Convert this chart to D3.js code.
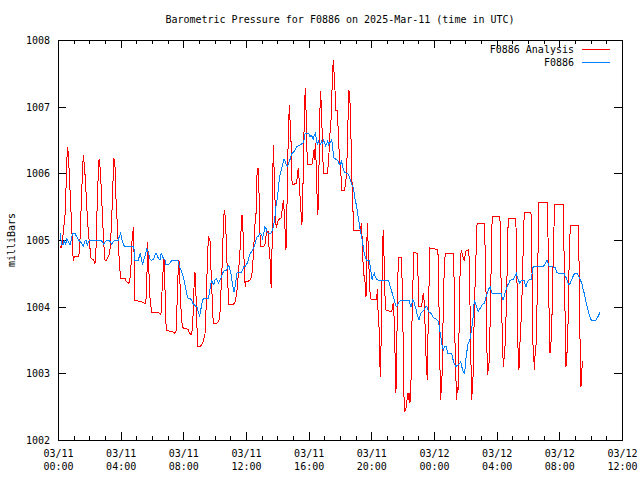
<!DOCTYPE html>
<html><head><meta charset="utf-8">
<script src="https://cdn.jsdelivr.net/npm/d3@7"></script>
<style>
html,body{margin:0;padding:0;background:#fff;}
svg{display:block;}
text{font-family:"DejaVu Sans Mono","Liberation Mono",monospace;font-size:10px;fill:#000;}
</style></head>
<body>
<svg id="chart" width="640" height="480"></svg>
<script>
// ---- data (hours after 2025-03-11 00:00 UTC, millibars) ----
const chartTitle = "Barometric Pressure for F0886 on 2025-Mar-11 (time in UTC)";
const yLabel = "milliBars";
const seriesNames = ["F0886 Analysis", "F0886"];
const seriesColors = ["#ff0000", "#0080ff"];
const yTicks = [1002, 1003, 1004, 1005, 1006, 1007, 1008];

const analysisData = [
[0.13,1004.90],[0.24,1004.88],[0.45,1005.38],[0.56,1006.08],[0.59,1006.40],[0.66,1006.30],[0.70,1006.10],[0.77,1005.73],[0.87,1005.23],[0.94,1004.82],[0.98,1004.68],[1.04,1004.75],[1.30,1004.75],[1.36,1004.80],[1.42,1005.08],[1.51,1005.73],[1.58,1006.08],[1.61,1006.28],[1.68,1006.13],[1.74,1005.93],[1.83,1005.53],[1.93,1005.13],[2.04,1004.88],[2.11,1004.72],[2.25,1004.71],[2.36,1004.65],[2.43,1004.90],[2.49,1005.43],[2.55,1005.87],[2.62,1006.22],[2.68,1006.10],[2.74,1005.87],[2.83,1005.40],[2.92,1004.95],[3.00,1004.70],[3.11,1004.70],[3.25,1004.77],[3.34,1004.90],[3.43,1005.33],[3.51,1005.87],[3.57,1006.23],[3.64,1006.10],[3.70,1005.63],[3.78,1005.25],[3.85,1004.93],[3.94,1004.58],[4.00,1004.42],[4.28,1004.42],[4.38,1004.37],[4.53,1004.35],[4.64,1004.48],[4.70,1004.93],[4.77,1005.08],[4.81,1005.20],[4.85,1004.85],[4.91,1004.09],[5.30,1004.08],[5.60,1004.04],[5.66,1004.28],[5.72,1004.97],[5.79,1004.60],[5.87,1004.13],[5.98,1003.92],[6.40,1003.92],[6.51,1003.89],[6.57,1003.88],[6.66,1004.33],[6.72,1004.60],[6.76,1004.73],[6.81,1004.48],[6.85,1004.03],[6.91,1003.65],[7.15,1003.63],[7.36,1003.62],[7.47,1003.60],[7.57,1003.65],[7.61,1004.22],[7.68,1004.58],[7.72,1004.70],[7.76,1004.50],[7.85,1003.97],[7.93,1003.70],[8.06,1003.67],[8.21,1003.67],[8.32,1003.65],[8.38,1003.60],[8.53,1003.58],[8.60,1003.73],[8.66,1004.18],[8.70,1004.38],[8.74,1004.52],[8.79,1004.38],[8.83,1003.92],[8.89,1003.58],[8.93,1003.40],[9.06,1003.40],[9.17,1003.43],[9.27,1003.48],[9.38,1003.58],[9.44,1003.88],[9.51,1004.48],[9.55,1004.65],[9.59,1005.05],[9.66,1005.02],[9.72,1004.97],[9.76,1004.58],[9.85,1004.08],[9.91,1003.75],[10.13,1003.75],[10.27,1003.78],[10.34,1003.92],[10.40,1004.22],[10.49,1004.68],[10.55,1005.18],[10.61,1005.45],[10.66,1005.38],[10.70,1005.25],[10.77,1004.78],[10.83,1004.38],[10.91,1004.03],[11.19,1004.03],[11.30,1004.07],[11.40,1004.18],[11.51,1004.48],[11.57,1004.68],[11.61,1004.82],[11.68,1005.13],[11.74,1005.38],[11.79,1005.25],[11.85,1004.85],[11.91,1004.48],[11.95,1004.30],[12.00,1004.38],[12.14,1004.38],[12.25,1004.40],[12.36,1004.45],[12.43,1004.63],[12.49,1004.88],[12.57,1005.23],[12.64,1005.40],[12.68,1005.83],[12.72,1006.08],[12.78,1006.08],[12.83,1005.70],[12.87,1005.20],[12.93,1004.90],[13.10,1004.90],[13.21,1004.93],[13.27,1005.05],[13.33,1005.13],[13.42,1005.13],[13.48,1004.85],[13.53,1004.73],[13.57,1004.45],[13.61,1004.28],[13.66,1004.85],[13.70,1005.75],[13.74,1006.43],[13.78,1006.15],[13.83,1005.80],[13.89,1005.25],[13.96,1005.20],[14.06,1005.30],[14.23,1005.33],[14.31,1005.45],[14.38,1005.60],[14.42,1005.50],[14.47,1005.27],[14.51,1005.05],[14.55,1004.85],[14.60,1005.20],[14.63,1005.75],[14.68,1006.35],[14.72,1006.65],[14.76,1007.03],[14.81,1006.80],[14.85,1006.65],[14.89,1006.35],[14.93,1005.90],[14.97,1005.83],[15.23,1005.85],[15.33,1006.08],[15.38,1005.95],[15.42,1005.75],[15.49,1005.50],[15.53,1005.35],[15.57,1005.23],[15.62,1005.60],[15.66,1006.10],[15.70,1006.60],[15.74,1006.95],[15.78,1007.28],[15.83,1006.95],[15.87,1006.60],[15.91,1006.13],[16.21,1006.13],[16.29,1006.25],[16.34,1006.35],[16.38,1006.20],[16.42,1006.45],[16.47,1006.20],[16.51,1005.85],[16.55,1005.55],[16.59,1005.38],[16.64,1005.85],[16.68,1006.40],[16.72,1006.95],[16.77,1007.23],[16.81,1006.95],[16.85,1006.70],[16.89,1006.35],[16.94,1006.00],[17.21,1006.00],[17.25,1006.15],[17.31,1006.35],[17.38,1006.70],[17.45,1006.85],[17.49,1007.25],[17.53,1007.50],[17.57,1007.70],[17.61,1007.55],[17.66,1007.35],[17.70,1007.15],[17.74,1006.95],[17.81,1006.95],[17.87,1006.73],[17.93,1006.40],[17.99,1006.15],[18.06,1005.98],[18.10,1005.75],[18.27,1005.75],[18.32,1005.80],[18.36,1005.85],[18.42,1006.00],[18.49,1006.60],[18.53,1006.98],[18.57,1007.25],[18.62,1007.15],[18.66,1006.95],[18.70,1006.55],[18.74,1006.10],[18.78,1005.75],[18.85,1005.30],[18.89,1005.14],[19.27,1005.14],[19.34,1005.20],[19.38,1005.25],[19.42,1004.95],[19.48,1004.60],[19.56,1004.40],[19.61,1004.35],[19.66,1004.15],[19.70,1004.70],[19.74,1005.25],[19.78,1005.05],[19.82,1004.75],[19.87,1004.45],[19.93,1004.15],[19.98,1004.11],[20.34,1004.11],[20.38,1004.25],[20.40,1004.27],[20.42,1003.97],[20.49,1003.70],[20.53,1003.35],[20.57,1002.95],[20.61,1003.30],[20.66,1004.00],[20.70,1004.75],[20.76,1005.15],[20.80,1004.85],[20.85,1004.40],[20.89,1004.00],[20.93,1003.95],[21.08,1003.94],[21.30,1003.92],[21.36,1004.03],[21.40,1004.05],[21.44,1003.90],[21.49,1003.60],[21.53,1003.05],[21.57,1002.70],[21.62,1003.30],[21.66,1004.00],[21.70,1004.50],[21.74,1004.74],[21.93,1004.74],[21.98,1004.20],[22.02,1003.65],[22.06,1003.05],[22.10,1002.43],[22.17,1002.45],[22.25,1002.50],[22.29,1002.65],[22.34,1002.70],[22.38,1002.60],[22.42,1002.70],[22.46,1002.55],[22.51,1002.70],[22.55,1003.05],[22.59,1003.70],[22.63,1004.25],[22.68,1004.50],[22.72,1004.81],[22.95,1004.80],[22.99,1004.35],[23.04,1004.00],[23.17,1004.00],[23.23,1004.05],[23.31,1004.20],[23.35,1004.13],[23.40,1004.00],[23.44,1003.60],[23.48,1003.30],[23.53,1003.10],[23.57,1002.90],[23.61,1003.50],[23.66,1004.00],[23.70,1004.60],[23.74,1004.88],[24.00,1004.87],[24.25,1004.85],[24.30,1004.30],[24.34,1003.70],[24.38,1003.10],[24.42,1002.60],[24.46,1002.75],[24.51,1002.95],[24.55,1003.35],[24.59,1004.00],[24.66,1004.60],[24.72,1004.80],[25.23,1004.80],[25.28,1004.43],[25.32,1003.70],[25.36,1003.25],[25.41,1002.85],[25.45,1002.60],[25.49,1002.80],[25.53,1002.72],[25.57,1003.15],[25.61,1003.85],[25.65,1004.40],[25.72,1004.80],[25.76,1004.83],[25.82,1004.77],[25.89,1004.72],[25.93,1004.70],[25.99,1004.78],[26.05,1004.84],[26.18,1004.85],[26.23,1004.80],[26.27,1004.45],[26.31,1003.85],[26.36,1003.15],[26.40,1002.60],[26.44,1002.75],[26.48,1002.85],[26.53,1003.35],[26.57,1003.90],[26.63,1004.40],[26.69,1004.84],[26.75,1005.25],[27.20,1005.25],[27.25,1004.98],[27.30,1004.60],[27.33,1004.05],[27.38,1003.35],[27.42,1002.98],[27.46,1003.05],[27.51,1003.15],[27.55,1003.40],[27.59,1003.85],[27.63,1004.35],[27.68,1005.10],[27.72,1005.35],[28.21,1005.35],[28.23,1004.98],[28.27,1004.50],[28.31,1004.10],[28.36,1003.55],[28.40,1003.25],[28.44,1003.10],[28.48,1003.25],[28.53,1003.40],[28.57,1003.65],[28.61,1003.95],[28.66,1004.45],[28.70,1004.97],[28.74,1005.33],[29.21,1005.33],[29.25,1005.10],[29.29,1004.50],[29.34,1003.60],[29.38,1003.20],[29.42,1003.05],[29.46,1003.25],[29.50,1003.55],[29.55,1003.75],[29.61,1004.10],[29.67,1004.65],[29.72,1005.10],[29.76,1005.42],[30.19,1005.42],[30.23,1005.00],[30.27,1004.25],[30.31,1003.45],[30.36,1003.35],[30.40,1003.05],[30.44,1003.25],[30.49,1003.35],[30.53,1003.50],[30.57,1003.95],[30.61,1004.50],[30.66,1005.03],[30.70,1005.57],[31.23,1005.57],[31.27,1005.15],[31.32,1004.40],[31.36,1003.60],[31.40,1003.30],[31.45,1003.40],[31.49,1003.55],[31.53,1003.85],[31.57,1004.30],[31.61,1004.75],[31.66,1005.20],[31.72,1005.54],[32.25,1005.54],[32.29,1004.95],[32.34,1004.25],[32.38,1003.70],[32.42,1003.10],[32.46,1003.20],[32.50,1003.35],[32.55,1003.70],[32.59,1004.05],[32.63,1004.75],[32.70,1005.22],[33.21,1005.22],[33.25,1004.80],[33.29,1004.00],[33.34,1003.20],[33.38,1002.80],[33.42,1002.95],[33.46,1003.15],[33.51,1003.19]
];

const stationData = [
[0.13,1005.10],[0.24,1004.93],[0.34,1004.93],[0.40,1005.00],[0.49,1004.93],[0.57,1005.02],[0.66,1004.97],[0.77,1004.93],[0.87,1005.03],[0.94,1005.10],[1.08,1005.10],[1.19,1005.05],[1.30,1005.00],[1.40,1004.98],[1.51,1004.95],[1.61,1004.91],[1.72,1004.98],[1.79,1005.00],[1.87,1004.93],[1.93,1004.97],[2.04,1005.00],[2.15,1005.00],[2.74,1005.00],[2.83,1004.97],[2.92,1004.93],[3.00,1004.97],[3.11,1005.00],[3.25,1005.00],[3.34,1004.97],[3.43,1004.93],[3.53,1004.98],[3.64,1005.00],[3.85,1005.00],[3.91,1005.05],[4.00,1005.10],[4.06,1005.03],[4.17,1004.93],[4.28,1004.90],[4.81,1004.90],[4.87,1004.85],[4.91,1004.70],[5.12,1004.70],[5.19,1004.75],[5.25,1004.80],[5.34,1004.70],[5.40,1004.62],[5.47,1004.70],[5.55,1004.75],[5.62,1004.82],[5.68,1004.87],[5.74,1004.82],[5.81,1004.77],[5.87,1004.72],[5.93,1004.70],[6.02,1004.70],[6.11,1004.72],[6.19,1004.77],[6.25,1004.80],[6.32,1004.77],[6.40,1004.73],[6.51,1004.70],[6.59,1004.80],[6.72,1004.73],[6.83,1004.70],[6.89,1004.63],[7.04,1004.63],[7.15,1004.65],[7.26,1004.70],[7.64,1004.70],[7.72,1004.63],[7.79,1004.58],[7.85,1004.55],[7.93,1004.50],[8.00,1004.45],[8.06,1004.38],[8.13,1004.30],[8.21,1004.20],[8.28,1004.13],[8.42,1004.12],[8.53,1004.10],[8.60,1004.05],[8.70,1004.03],[8.81,1004.00],[8.87,1004.00],[8.91,1003.95],[8.98,1003.92],[9.04,1003.85],[9.11,1003.95],[9.17,1004.02],[9.23,1004.10],[9.30,1004.12],[9.59,1004.12],[9.66,1004.20],[9.72,1004.30],[9.81,1004.40],[9.87,1004.35],[9.94,1004.33],[10.02,1004.40],[10.10,1004.42],[10.19,1004.38],[10.25,1004.35],[10.34,1004.40],[10.40,1004.42],[10.45,1004.47],[10.51,1004.50],[10.57,1004.53],[10.66,1004.55],[10.77,1004.55],[10.83,1004.60],[10.91,1004.62],[10.98,1004.55],[11.04,1004.50],[11.10,1004.40],[11.17,1004.30],[11.23,1004.22],[11.30,1004.30],[11.36,1004.40],[11.42,1004.50],[11.49,1004.52],[11.72,1004.52],[11.79,1004.55],[11.85,1004.60],[11.93,1004.60],[12.00,1004.63],[12.08,1004.65],[12.15,1004.70],[12.21,1004.77],[12.27,1004.80],[12.36,1004.82],[12.43,1004.85],[12.49,1004.88],[12.57,1004.93],[12.64,1005.00],[12.72,1005.05],[12.78,1005.05],[12.89,1005.10],[13.00,1005.08],[13.06,1005.03],[13.13,1005.10],[13.21,1005.20],[13.27,1005.18],[13.33,1005.12],[13.42,1005.10],[13.57,1005.10],[13.66,1005.13],[13.76,1005.20],[13.85,1005.35],[13.91,1005.50],[13.98,1005.60],[14.06,1005.75],[14.12,1005.90],[14.19,1006.00],[14.31,1006.10],[14.40,1006.20],[14.44,1006.21],[14.51,1006.18],[14.57,1006.13],[14.63,1006.10],[14.70,1006.13],[14.76,1006.18],[14.83,1006.22],[14.91,1006.30],[15.02,1006.31],[15.12,1006.35],[15.23,1006.40],[15.44,1006.42],[15.66,1006.46],[15.72,1006.52],[15.78,1006.60],[15.98,1006.60],[16.04,1006.58],[16.09,1006.55],[16.15,1006.57],[16.23,1006.55],[16.29,1006.51],[16.36,1006.57],[16.42,1006.60],[16.49,1006.52],[16.55,1006.43],[16.62,1006.48],[16.68,1006.45],[16.74,1006.43],[16.83,1006.48],[16.89,1006.45],[16.96,1006.50],[17.02,1006.45],[17.09,1006.41],[17.15,1006.45],[17.21,1006.48],[17.28,1006.43],[17.34,1006.45],[17.40,1006.48],[17.47,1006.50],[17.53,1006.40],[17.60,1006.23],[17.68,1006.22],[17.79,1006.20],[17.89,1006.18],[17.96,1006.13],[18.02,1006.13],[18.09,1006.18],[18.15,1006.13],[18.21,1006.05],[18.32,1006.01],[18.42,1006.00],[18.53,1005.99],[18.59,1005.95],[18.66,1005.90],[18.72,1005.85],[18.85,1005.78],[18.97,1005.60],[19.04,1005.53],[19.17,1005.33],[19.29,1005.15],[19.36,1005.07],[19.42,1005.00],[19.48,1004.90],[19.55,1004.80],[19.61,1004.75],[19.68,1004.70],[19.87,1004.70],[19.93,1004.60],[19.99,1004.50],[20.06,1004.40],[20.12,1004.47],[20.19,1004.50],[20.25,1004.45],[20.34,1004.41],[20.44,1004.40],[21.08,1004.40],[21.15,1004.35],[21.27,1004.25],[21.40,1004.15],[21.46,1004.10],[21.59,1004.00],[21.66,1004.02],[21.72,1004.05],[21.87,1004.10],[22.40,1004.10],[22.46,1004.05],[22.53,1004.00],[22.59,1004.05],[22.65,1004.10],[22.72,1004.07],[22.78,1004.02],[22.85,1003.97],[22.91,1003.90],[22.97,1003.85],[23.04,1003.80],[23.10,1003.85],[23.17,1003.90],[23.23,1003.92],[23.36,1003.95],[23.48,1004.00],[23.55,1004.00],[23.61,1003.95],[23.68,1003.92],[23.80,1003.90],[23.93,1003.85],[24.00,1003.83],[24.21,1003.80],[24.27,1003.78],[24.34,1003.70],[24.40,1003.60],[24.47,1003.50],[24.53,1003.40],[24.59,1003.35],[24.66,1003.40],[24.70,1003.41],[24.77,1003.40],[24.83,1003.35],[24.89,1003.30],[25.13,1003.30],[25.19,1003.23],[25.25,1003.17],[25.32,1003.13],[25.38,1003.10],[25.51,1003.12],[25.64,1003.15],[25.70,1003.17],[25.76,1003.12],[25.82,1003.05],[25.89,1003.02],[25.95,1003.00],[26.02,1003.15],[26.05,1003.25],[26.10,1003.33],[26.16,1003.43],[26.23,1003.47],[26.29,1003.50],[26.36,1003.60],[26.42,1003.70],[26.48,1003.80],[26.53,1003.95],[26.57,1004.10],[26.61,1004.08],[26.68,1004.03],[26.74,1003.98],[26.82,1003.93],[26.89,1003.95],[26.95,1003.98],[27.02,1004.00],[27.08,1004.03],[27.20,1004.05],[27.27,1004.10],[27.33,1004.15],[27.40,1004.20],[27.46,1004.25],[27.53,1004.28],[27.59,1004.30],[27.66,1004.23],[27.72,1004.20],[28.28,1004.20],[28.34,1004.15],[28.40,1004.10],[28.47,1004.15],[28.53,1004.20],[28.60,1004.25],[28.66,1004.30],[28.72,1004.33],[28.79,1004.35],[28.85,1004.40],[28.93,1004.40],[29.06,1004.41],[29.12,1004.44],[29.18,1004.47],[29.25,1004.50],[29.31,1004.45],[29.38,1004.40],[29.42,1004.38],[29.48,1004.35],[29.55,1004.38],[29.61,1004.40],[29.74,1004.40],[29.80,1004.35],[29.87,1004.30],[29.93,1004.35],[30.01,1004.39],[30.12,1004.41],[30.19,1004.40],[30.23,1004.43],[30.27,1004.53],[30.33,1004.60],[30.97,1004.60],[31.08,1004.64],[31.15,1004.67],[31.21,1004.70],[31.27,1004.66],[31.34,1004.61],[31.42,1004.60],[31.72,1004.59],[31.78,1004.55],[31.85,1004.51],[31.97,1004.50],[32.31,1004.50],[32.37,1004.46],[32.44,1004.43],[32.50,1004.39],[32.57,1004.35],[32.63,1004.33],[32.70,1004.35],[32.76,1004.39],[32.83,1004.43],[32.89,1004.46],[32.95,1004.49],[33.04,1004.50],[33.14,1004.50],[33.21,1004.47],[33.27,1004.44],[33.34,1004.40],[33.40,1004.37],[33.46,1004.33],[33.53,1004.25],[33.59,1004.20],[33.66,1004.13],[33.72,1004.05],[33.79,1003.99],[33.85,1003.93],[33.91,1003.88],[33.97,1003.83],[34.04,1003.80],[34.34,1003.80],[34.40,1003.83],[34.49,1003.86],[34.59,1003.91]
];

// ---- drawing ----
const startMs = Date.UTC(2025, 2, 11, 0, 0);
const endMs = Date.UTC(2025, 2, 12, 12, 0);
const toDate = h => new Date(startMs + h * 3600000);

const margin = {left: 58, right: 622, top: 40, bottom: 440};
const svg = d3.select("#chart");

const x = d3.scaleUtc().domain([new Date(startMs), new Date(endMs)]).range([margin.left, margin.right]);
const y = d3.scaleLinear().domain([1002, 1008]).range([margin.bottom, margin.top]);

// title
svg.append("text").attr("x", (margin.left + margin.right) / 2).attr("y", 23)
  .attr("text-anchor", "middle").text(chartTitle);

// y label
svg.append("text").attr("transform", "translate(15," + ((margin.top + margin.bottom) / 2) + ") rotate(-90)")
  .attr("text-anchor", "middle").text(yLabel);

const majorX = d3.utcHour.every(4).range(new Date(startMs), new Date(endMs + 1));
const minorX = d3.utcHour.every(1).range(new Date(startMs), new Date(endMs + 1));
const fmtDate = d3.utcFormat("%m/%d");
const fmtTime = d3.utcFormat("%H:%M");

function styleAxis(g) {
  g.select(".domain").remove();
  g.attr("font-size", null).attr("font-family", null);
  g.selectAll("line").attr("stroke", "#000").attr("shape-rendering", "crispEdges");
}

// minor ticks bottom/top
svg.append("g").attr("transform", `translate(0,${margin.bottom})`)
  .call(d3.axisBottom(x).tickValues(minorX).tickSize(-4).tickFormat(""))
  .call(styleAxis);
svg.append("g").attr("transform", `translate(0,${margin.top})`)
  .call(d3.axisTop(x).tickValues(minorX).tickSize(-4).tickFormat(""))
  .call(styleAxis);

// major bottom
const gxb = svg.append("g").attr("transform", `translate(0,${margin.bottom})`)
  .call(d3.axisBottom(x).tickValues(majorX).tickSize(-8).tickFormat(""))
  .call(styleAxis);
gxb.selectAll(".tick").each(function(d) {
  const t = d3.select(this).append("text").attr("text-anchor", "middle").attr("fill", "#000");
  t.append("tspan").attr("x", 0).attr("y", 17).text(fmtDate(d));
  t.append("tspan").attr("x", 0).attr("y", 30).text(fmtTime(d));
});
svg.append("g").attr("transform", `translate(0,${margin.top})`)
  .call(d3.axisTop(x).tickValues(majorX).tickSize(-8).tickFormat(""))
  .call(styleAxis);

// y axes
const gyl = svg.append("g").attr("transform", `translate(${margin.left},0)`)
  .call(d3.axisLeft(y).tickValues(yTicks).tickSize(-8).tickPadding(8).tickFormat(d3.format("d")))
  .call(styleAxis);
gyl.selectAll("text").attr("dy", "0.35em");
svg.append("g").attr("transform", `translate(${margin.right},0)`)
  .call(d3.axisRight(y).tickValues(yTicks).tickSize(-8).tickFormat(""))
  .call(styleAxis);

// frame
svg.append("rect").attr("x", margin.left + 0.5).attr("y", margin.top + 0.5)
  .attr("width", margin.right - margin.left).attr("height", margin.bottom - margin.top)
  .attr("fill", "none").attr("stroke", "#000").attr("shape-rendering", "crispEdges");

const line = d3.line().x(d => x(toDate(d[0]))).y(d => y(d[1]));

svg.append("path").datum(analysisData).attr("d", line)
  .attr("fill", "none").attr("stroke", seriesColors[0]).attr("stroke-width", 1)
  .attr("shape-rendering", "crispEdges");
svg.append("path").datum(stationData).attr("d", line)
  .attr("fill", "none").attr("stroke", seriesColors[1]).attr("stroke-width", 1)
  .attr("shape-rendering", "crispEdges");

// legend
const legend = svg.append("g");
seriesNames.forEach((name, i) => {
  const ly = 49.5 + i * 13;
  legend.append("text").attr("x", 574).attr("y", ly).attr("dy", "0.35em")
    .attr("text-anchor", "end").text(name);
  legend.append("line").attr("x1", 582).attr("x2", 610).attr("y1", ly).attr("y2", ly)
    .attr("stroke", seriesColors[i]).attr("stroke-width", 1);
});
</script>
</body></html>
